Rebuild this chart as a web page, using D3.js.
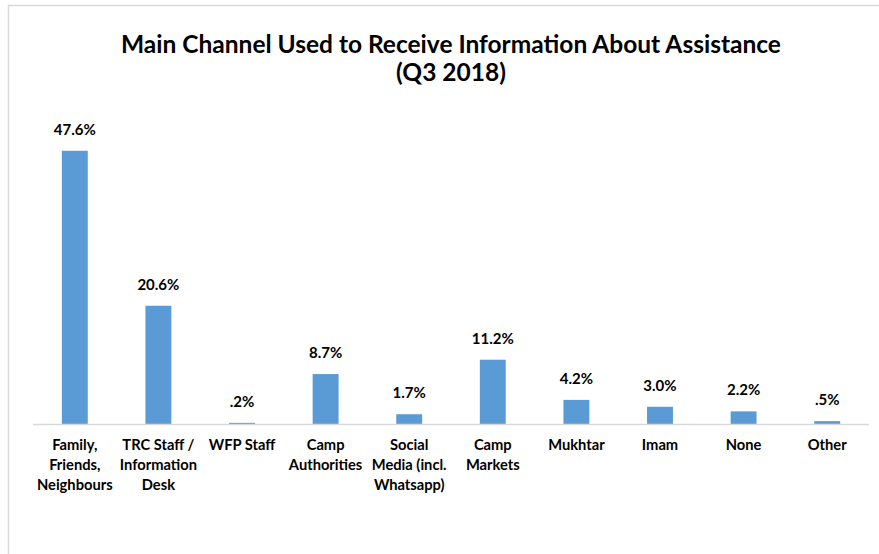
<!DOCTYPE html>
<html>
<head>
<meta charset="utf-8">
<script src="https://cdn.jsdelivr.net/npm/d3@7"></script>
<style>
  body { margin: 0; background: #fff; }
  text { font-family: Lato, "Open Sans", sans-serif; font-weight: bold; fill: #000; }
</style>
</head>
<body>
<div id="chart"></div>
<script>
const width = 879
const height = 554
const margin = { top: 137, bottom: 130, left: 33, right: 10 }

// datos
const categories = ["Family, Friends, Neighbours", "TRC Staff / Information Desk", "WFP Staff",
  "Camp Authorities", "Social Media (incl. Whatsapp)", "Camp Markets", "Mukhtar", "Imam", "None", "Other"]
const labelLines = [
  ["Family,", "Friends,", "Neighbours"],
  ["TRC Staff /", "Information", "Desk"],
  ["WFP Staff"],
  ["Camp", "Authorities"],
  ["Social", "Media (incl.", "Whatsapp)"],
  ["Camp", "Markets"],
  ["Mukhtar"],
  ["Imam"],
  ["None"],
  ["Other"]
]
const values = [47.6, 20.6, 0.2, 8.7, 1.7, 11.2, 4.2, 3.0, 2.2, 0.5]
const valueLabels = ["47.6%", "20.6%", ".2%", "8.7%", "1.7%", "11.2%", "4.2%", "3.0%", "2.2%", ".5%"]

const svg = d3.select("#chart").append("svg")
  .attr("width", width)
  .attr("height", height)

// borde del gráfico
svg.append("rect")
  .attr("x", 8.5).attr("y", 5.5)
  .attr("width", width + 10).attr("height", height + 10)
  .attr("fill", "none")
  .attr("stroke", "#d9d9d9")
  .attr("stroke-width", 1.5)

const baseY = height - margin.bottom
const x = d3.scaleBand()
  .domain(categories)
  .range([margin.left, width - margin.right])
  .paddingInner(0.69)
  .paddingOuter(0.345)
const y = d3.scaleLinear().domain([0, 50]).range([baseY, margin.top])

// título
const title = svg.append("text")
  .attr("text-anchor", "middle")
  .style("font-size", "24.5px")
title.append("tspan").attr("x", 451).attr("y", 53).text("Main Channel Used to Receive Information About Assistance")
title.append("tspan").attr("x", 451).attr("y", 81).text("(Q3 2018)")

// barras
svg.append("g").selectAll("rect").data(values)
  .join("rect")
  .attr("x", (d, i) => x(categories[i]))
  .attr("y", d => y(d))
  .attr("width", x.bandwidth())
  .attr("height", d => baseY - y(d))
  .attr("fill", "#5b9bd5")

// eje
svg.append("line")
  .attr("x1", margin.left).attr("x2", width - margin.right)
  .attr("y1", baseY + 0.5).attr("y2", baseY + 0.5)
  .attr("stroke", "#d9d9d9").attr("stroke-width", 1.5)

// etiquetas de valores
svg.append("g").selectAll("text").data(values)
  .join("text")
  .attr("x", (d, i) => x(categories[i]) + x.bandwidth() / 2)
  .attr("y", d => y(d) - 16)
  .attr("text-anchor", "middle")
  .style("font-size", "15px")
  .text((d, i) => valueLabels[i])

// categorías
const cat = svg.append("g").selectAll("text").data(labelLines)
  .join("text")
  .attr("text-anchor", "middle")
  .style("font-size", "14.7px")
cat.each(function (lines, i) {
  const cx = x(categories[i]) + x.bandwidth() / 2
  d3.select(this).selectAll("tspan").data(lines)
    .join("tspan")
    .attr("x", cx)
    .attr("y", (d, j) => baseY + 26 + j * 20)
    .text(d => d)
})
</script>
</body>
</html>
